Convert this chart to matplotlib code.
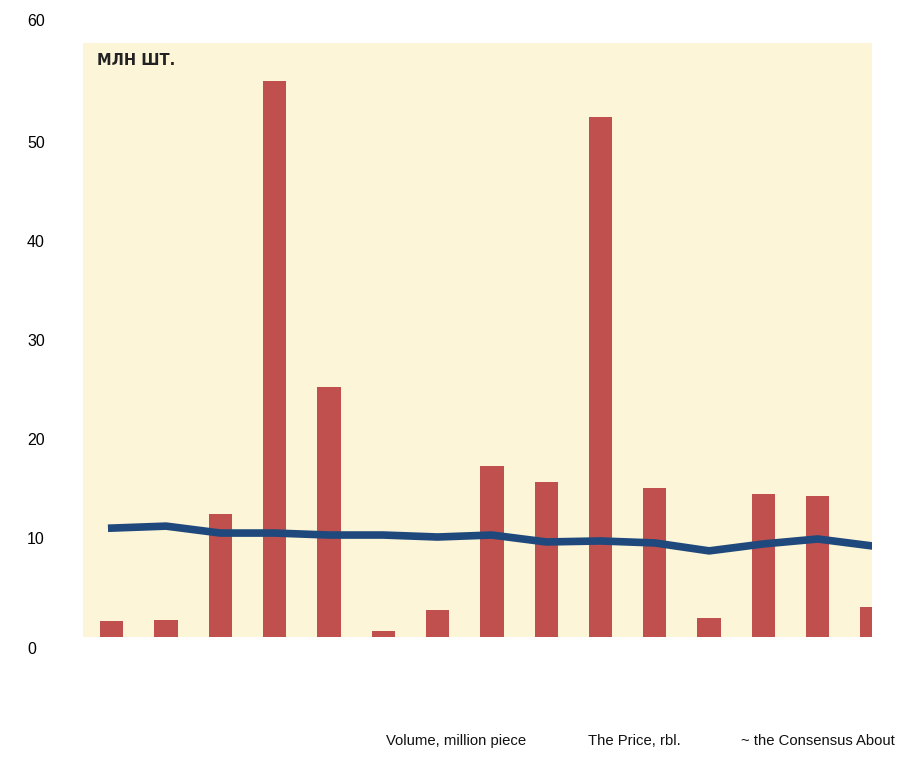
import matplotlib.pyplot as plt
import matplotlib.transforms as mtransforms
import numpy as np

plt.rcParams['font.family'] = ['Liberation Sans', 'DejaVu Sans']

# объём торгов, млн шт.
volume = [1.6, 1.7, 12.4, 56.2, 25.3, 0.6, 2.7, 17.3, 15.7, 52.5, 15.1, 1.9, 14.4, 14.2, 3.0]
# цена, руб.
price = [11.0, 11.2, 10.5, 10.5, 10.3, 10.3, 10.1, 10.3, 9.6, 9.7, 9.5, 8.7, 9.4, 9.9, 9.2]
yticks = [0, 10, 20, 30, 40, 50, 60]
legend_txt = ["Volume, million piece", "The Price, rbl.", "~ the Consensus About"]

x = np.arange(len(volume))

fig = plt.figure(figsize=(9.17, 7.61), dpi=100)
ax = fig.add_axes([83/917, 1-637/761, (872-83)/917, (637-43)/761])
ax.set_facecolor('#fdf5d7')

ax.bar(x, volume, width=0.43, color='#c0504d', zorder=2)
ax.plot(x, price, color='#1f497d', lw=5.5, solid_capstyle='projecting', zorder=3)

ax.set_xlim(-0.53, 14.0)
ax.set_ylim(0, 60)
ax.set_xticks([])
ax.set_yticks(yticks)
ax.tick_params(axis='y', length=0, labelsize=11.5, pad=0)
for s in ax.spines.values():
    s.set_visible(False)

# подписи оси — выровнены по левому краю
labs = ax.get_yticklabels()
for lab in labs:
    lab.set_horizontalalignment('left')
    lab.set_transform(lab.get_transform() + mtransforms.ScaledTranslation(-56/100, 0, fig.dpi_scale_trans))
labs[0].set_transform(labs[0].get_transform() + mtransforms.ScaledTranslation(0, -11/100, fig.dpi_scale_trans))
labs[-1].set_transform(labs[-1].get_transform() + mtransforms.ScaledTranslation(0, 23/100, fig.dpi_scale_trans))

ax.text(0.018, 0.984, "МЛН ШТ.", transform=ax.transAxes, ha='left', va='top',
        fontsize=10.5, family='DejaVu Sans', fontweight='bold', color='#222222')

xs = [386, 588, 741]
for t, xp in zip(legend_txt, xs):
    fig.text(xp/917, 1-741/761, t, ha='left', va='center', fontsize=10.7, color='#111111')

fig.savefig('out.png', dpi=100)
